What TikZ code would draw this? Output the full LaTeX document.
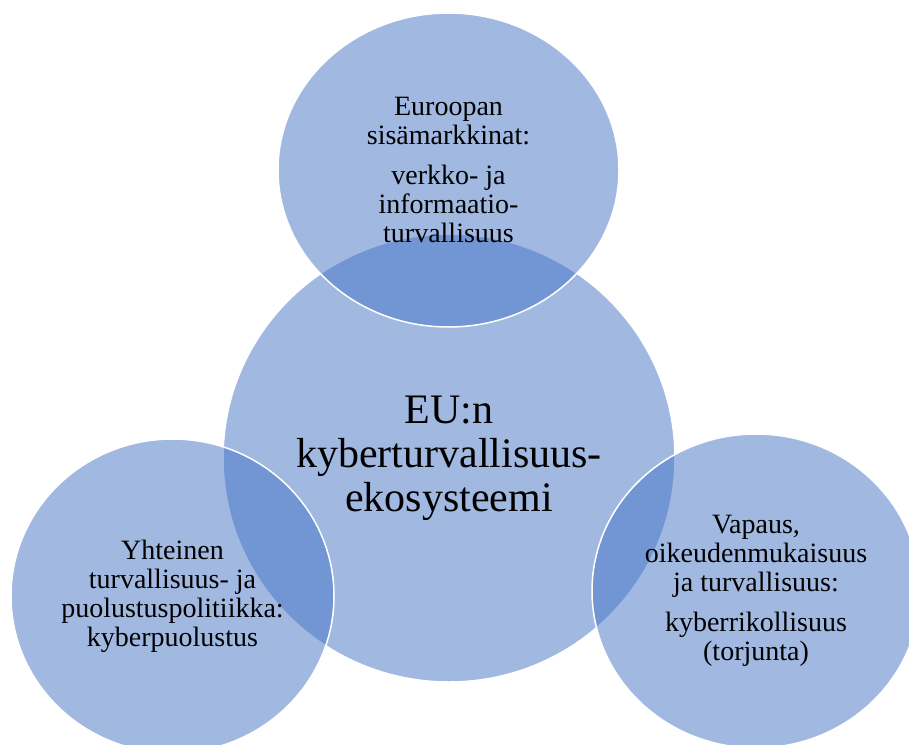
\documentclass[tikz,border=0pt]{standalone}
\usepackage{fontspec}
\setmainfont{Liberation Serif}
\usetikzlibrary{shapes.geometric}
\definecolor{smartblue}{HTML}{4472C4}

\begin{document}
\begin{tikzpicture}[x=1pt, y=-1pt]
\useasboundingbox (0,0) rectangle (909,744);
\clip (0,0) rectangle (909,744);
% centres
\coordinate (C) at (449,458);
\coordinate (T) at (448.5,170);
\coordinate (L) at (172.5,596);
\coordinate (R) at (756,591);

% circles
\begin{scope}[every node/.style={ellipse, draw=white, line width=1.5pt, fill=smartblue, fill opacity=0.5, text opacity=1, inner sep=0pt, align=center, font=\fontsize{28}{29}\selectfont}]
\node[minimum width=452, minimum height=448, font=\fontsize{42}{44}\selectfont] (eco) at (C) {EU:n\\kyberturvallisuus-\\ekosysteemi};
\node[minimum width=341, minimum height=314] (markkinat) at (T) {Euroopan\\sisämarkkinat:\\[11pt]verkko- ja\\informaatio-\\turvallisuus};
\node[minimum width=323, minimum height=314] (puolustus) at (L) {Yhteinen\\turvallisuus- ja\\puolustuspolitiikka:\\kyberpuolustus};
\node[minimum width=328, minimum height=314] (vapaus) at (R) {Vapaus,\\oikeudenmukaisuus\\ja turvallisuus:\\[11pt]kyberrikollisuus\\(torjunta)};
\end{scope}

\end{tikzpicture}
\end{document}
